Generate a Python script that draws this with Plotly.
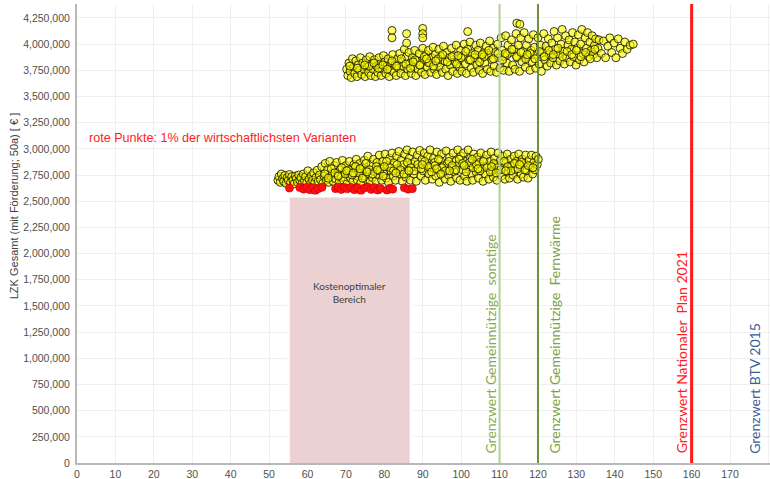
import plotly.graph_objects as go

# Variant cloud, lower band: (x, life-cycle cost in k€)
lower_pts = [
    (52.3, 2700), (52.6, 2735), (52.9, 2680), (53.2, 2760), (53.5, 2715), (53.8, 2690), (54.1, 2745), (54.4, 2670), (54.7, 2725), (55.0, 2700),
    (55.3, 2755), (55.6, 2680), (55.9, 2735), (56.2, 2700), (56.5, 2665), (56.8, 2740), (57.1, 2715), (57.4, 2680), (57.7, 2750), (58.0, 2700),
    (58.3, 2725), (58.6, 2670), (58.9, 2760), (59.2, 2695), (59.5, 2735), (59.8, 2680), (60.1, 2790), (60.4, 2710), (60.7, 2665), (61.0, 2745),
    (61.3, 2700), (61.6, 2770), (61.9, 2680), (62.2, 2725), (62.5, 2795), (62.8, 2690), (63.1, 2750), (63.4, 2705), (63.7, 2830), (64.0, 2670),
    (64.3, 2740), (64.6, 2860), (64.9, 2700), (65.2, 2800), (65.5, 2680), (65.8, 2880), (66.1, 2735), (66.4, 2765), (66.7, 2690), (67.0, 2840),
    (67.3, 2715), (67.6, 2870), (67.9, 2750), (68.2, 2680), (68.5, 2800), (68.8, 2730), (69.1, 2890), (69.4, 2700), (69.7, 2780), (70.0, 2840),
    (70.3, 2665), (70.6, 2760), (70.9, 2880), (71.2, 2720), (71.5, 2810), (71.8, 2690), (72.1, 2850), (72.4, 2745), (72.7, 2900), (73.0, 2700),
    (73.3, 2790), (73.6, 2860), (73.9, 2675), (74.2, 2820), (74.5, 2740), (74.8, 2890), (75.1, 2710), (75.4, 2800), (75.7, 2930), (76.0, 2760),
    (76.3, 2685), (76.6, 2850), (76.9, 2725), (77.2, 2900), (77.5, 2780), (77.8, 2690), (78.1, 2870), (78.4, 2750), (78.7, 2940), (79.0, 2810),
    (79.3, 2700), (79.6, 2880), (79.9, 2760), (80.2, 2950), (80.5, 2720), (80.8, 2840), (81.1, 2680), (81.4, 2910), (81.7, 2790), (82.0, 2960),
    (82.3, 2740), (82.6, 2870), (82.9, 2700), (83.2, 2930), (83.5, 2810), (83.8, 2975), (84.1, 2760), (84.4, 2890), (84.7, 2690), (85.0, 2850),
    (85.3, 2950), (85.6, 2730), (85.9, 2990), (86.2, 2800), (86.5, 2910), (86.8, 2700), (87.1, 2860), (87.4, 2970), (87.7, 2760), (88.0, 2880),
    (88.3, 2690), (88.6, 2940), (88.9, 2820), (89.2, 2985), (89.5, 2740), (89.8, 2900), (90.1, 2790), (90.4, 2960), (90.7, 2700), (91.0, 2850),
    (91.3, 2930), (91.6, 2760), (91.9, 2990), (92.2, 2820), (92.5, 2710), (92.8, 2910), (93.1, 2870), (93.4, 2740), (93.7, 2970), (94.0, 2800),
    (94.3, 2680), (94.6, 2890), (94.9, 2950), (95.2, 2770), (95.5, 2840), (95.8, 2710), (96.1, 2980), (96.4, 2860), (96.7, 2750), (97.0, 2920),
    (97.3, 2690), (97.6, 2830), (97.9, 2960), (98.2, 2780), (98.5, 2880), (98.8, 2720), (99.1, 2990), (99.4, 2850), (99.7, 2700), (100.0, 2930),
    (100.3, 2800), (100.6, 2960), (100.9, 2740), (101.2, 2880), (101.5, 2690), (101.8, 2990), (102.1, 2830), (102.4, 2910), (102.7, 2760), (103.0, 2700),
    (103.3, 2950), (103.6, 2850), (103.9, 2780), (104.2, 2920), (104.5, 2720), (104.8, 2870), (105.1, 2960), (105.4, 2810), (105.7, 2690), (106.0, 2900),
    (106.3, 2760), (106.6, 2940), (106.9, 2840), (107.2, 2710), (107.5, 2880), (107.8, 2970), (108.1, 2790), (108.4, 2730), (108.7, 2910), (109.0, 2850),
    (109.3, 2700), (109.6, 2960), (109.9, 2800), (110.2, 2890), (110.5, 2740), (110.8, 2930), (111.1, 2820), (111.4, 2710), (111.7, 2870), (112.0, 2950),
    (112.3, 2780), (112.6, 2720), (112.9, 2900), (113.2, 2840), (113.5, 2750), (113.8, 2930), (114.1, 2800), (114.4, 2880), (114.7, 2710), (115.0, 2950),
    (115.3, 2830), (115.6, 2760), (115.9, 2900), (116.2, 2730), (116.5, 2860), (116.8, 2940), (117.1, 2790), (117.4, 2720), (117.7, 2890), (118.0, 2830),
    (118.3, 2940), (118.6, 2760), (118.9, 2870), (119.2, 2800), (119.5, 2930), (119.8, 2850), (120.1, 2900),
    (64.5, 2760), (65.4, 2720), (66.2, 2810), (67.1, 2770), (68.0, 2740), (68.9, 2820), (69.8, 2760), (70.7, 2800), (71.6, 2750), (72.5, 2830),
    (73.4, 2770), (74.3, 2720), (75.2, 2860), (76.1, 2800), (77.0, 2760), (77.9, 2830), (78.8, 2790), (79.7, 2740), (80.6, 2880), (81.5, 2820),
    (82.4, 2790), (83.3, 2850), (84.2, 2800), (85.1, 2760), (86.0, 2870), (86.9, 2820), (87.8, 2790), (88.7, 2850), (89.6, 2810), (90.5, 2880),
    (91.4, 2830), (92.3, 2780), (93.2, 2840), (94.1, 2900), (95.0, 2820), (95.9, 2790), (96.8, 2880), (97.7, 2840), (98.6, 2800), (99.5, 2900),
    (100.4, 2860), (101.3, 2780), (102.2, 2870), (103.1, 2820), (104.0, 2850), (104.9, 2790), (105.8, 2880), (106.7, 2820), (107.6, 2780), (108.5, 2860),
    (109.4, 2820), (110.3, 2800), (111.2, 2880), (112.1, 2830), (113.0, 2790), (113.9, 2860), (114.8, 2810), (115.7, 2870), (116.6, 2800), (117.5, 2840),
    (70.2, 2790), (71.9, 2770), (73.7, 2810), (75.5, 2780), (78.2, 2800), (80.0, 2830), (83.0, 2770), (86.4, 2790), (89.9, 2850), (93.6, 2810),
    (97.0, 2790), (100.8, 2840), (104.4, 2810), (107.9, 2830), (111.6, 2790), (115.2, 2850), (118.7, 2820), (94.7, 2760), (102.9, 2900), (109.1, 2770),
]

# Variant cloud, upper band
upper_pts = [
    (70.2, 3760), (70.5, 3700), (70.8, 3820), (71.1, 3740), (71.4, 3680), (71.7, 3860), (72.0, 3780), (72.3, 3720), (72.6, 3840), (72.9, 3690),
    (73.2, 3800), (73.5, 3750), (73.8, 3870), (74.1, 3710), (74.4, 3820), (74.7, 3760), (75.0, 3690), (75.3, 3850), (75.6, 3780), (75.9, 3730),
    (76.2, 3880), (76.5, 3700), (76.8, 3810), (77.1, 3760), (77.4, 3850), (77.7, 3690), (78.0, 3790), (78.3, 3730), (78.6, 3870), (78.9, 3810),
    (79.2, 3700), (79.5, 3760), (79.8, 3890), (80.1, 3830), (80.4, 3720), (80.7, 3790), (81.0, 3860), (81.3, 3690), (81.6, 3750), (81.9, 3820),
    (82.2, 3900), (82.5, 3730), (82.8, 3800), (83.1, 3700), (83.4, 3860), (83.7, 3770), (84.0, 3910), (84.3, 3720), (84.6, 3830), (84.9, 3790),
    (85.2, 3950), (85.5, 3700), (85.8, 3880), (86.1, 3760), (86.4, 3920), (86.7, 3820), (87.0, 3720), (87.3, 3870), (87.6, 3790), (87.9, 3940),
    (88.2, 3700), (88.5, 3840), (88.8, 3760), (89.1, 3910), (89.4, 3800), (89.7, 3730), (90.0, 3960), (90.3, 3850), (90.6, 3710), (90.9, 3900),
    (91.2, 3780), (91.5, 3940), (91.8, 3830), (92.1, 3730), (92.4, 3870), (92.7, 3970), (93.0, 3760), (93.3, 3900), (93.6, 3710), (93.9, 3820),
    (94.2, 3950), (94.5, 3780), (94.8, 3880), (95.1, 3730), (95.4, 3980), (95.7, 3840), (96.0, 3760), (96.3, 3920), (96.6, 3700), (96.9, 3870),
    (97.2, 3800), (97.5, 3960), (97.8, 3740), (98.1, 3890), (98.4, 3830), (98.7, 3990), (99.0, 3720), (99.3, 3860), (99.6, 3780), (99.9, 3940),
    (100.2, 3740), (100.5, 3890), (100.8, 4000), (101.1, 3810), (101.4, 3720), (101.7, 3950), (102.0, 3850), (102.3, 4020), (102.6, 3770), (102.9, 3910),
    (103.2, 3730), (103.5, 3870), (103.8, 3990), (104.1, 3800), (104.4, 3940), (104.7, 3750), (105.0, 4010), (105.3, 3860), (105.6, 3720), (105.9, 3920),
    (106.2, 3820), (106.5, 3980), (106.8, 3760), (107.1, 3890), (107.4, 4030), (107.7, 3740), (108.0, 3850), (108.3, 3960), (108.6, 3790), (108.9, 3920),
    (109.2, 3730), (109.5, 4000), (109.8, 3870), (110.1, 3770), (110.4, 4060), (110.7, 3940), (111.0, 3750), (111.3, 3880), (111.6, 4080), (111.9, 3820),
    (112.2, 3990), (112.5, 3740), (112.8, 3920), (113.1, 4040), (113.4, 3800), (113.7, 3950), (114.0, 3760), (114.3, 4100), (114.6, 3870), (114.9, 3990),
    (115.2, 3740), (115.5, 4060), (115.8, 3830), (116.1, 3930), (116.4, 4110), (116.7, 3780), (117.0, 3990), (117.3, 3880), (117.6, 4050), (117.9, 3750),
    (118.2, 3940), (118.5, 3830), (118.8, 4090), (119.1, 3970), (119.4, 3770), (119.7, 3900), (120.0, 4060), (120.3, 3810), (120.6, 3990), (120.9, 3740),
    (121.2, 3920), (121.5, 4100), (121.8, 3850), (122.1, 3980), (122.4, 3790), (122.7, 4050), (123.0, 3900), (123.3, 3820), (123.6, 4010), (123.9, 3870),
    (124.2, 4120), (124.5, 3950), (124.8, 3800), (125.1, 4060), (125.4, 3900), (125.7, 3840), (126.0, 4000), (126.3, 4140), (126.6, 3930), (126.9, 3810),
    (127.2, 4080), (127.5, 3870), (127.8, 3990), (128.1, 4040), (128.4, 3830), (128.7, 3950), (129.0, 4110), (129.3, 3880), (129.6, 4020), (129.9, 3800),
    (130.2, 3960), (130.5, 4090), (130.8, 3850), (131.1, 4000), (131.4, 4140), (131.7, 3910), (132.0, 3830), (132.3, 4060), (132.6, 3960), (132.9, 4110),
    (133.2, 3880), (133.5, 4020), (133.8, 3940), (134.1, 4080), (134.4, 3900), (134.7, 3990), (135.0, 4050), (135.3, 3870), (135.6, 3960), (135.9, 4040),
    (136.5, 3910), (137.1, 4030), (137.6, 3870), (138.2, 3980), (138.7, 4060), (139.2, 3920), (139.8, 4010), (140.3, 3870), (140.9, 4050), (141.4, 3960),
    (142.0, 3910), (142.6, 4020), (143.2, 3950), (144.0, 3990), (144.8, 4000),
    (82.0, 4130), (82.0, 4060), (85.8, 4100), (85.8, 4010), (90.0, 4150), (90.0, 4100), (90.0, 4060),
    (101.7, 4120), (114.5, 4200), (115.3, 4190),
    (76.0, 3790), (77.3, 3820), (78.5, 3770), (79.6, 3800), (80.8, 3760), (82.0, 3840), (83.2, 3790), (84.4, 3860), (85.6, 3810), (86.8, 3770),
    (88.0, 3850), (89.2, 3800), (90.4, 3880), (91.6, 3820), (92.8, 3790), (94.0, 3860), (95.2, 3900), (96.4, 3830), (97.6, 3880), (98.8, 3810),
    (100.0, 3870), (101.2, 3930), (102.4, 3850), (103.6, 3900), (104.8, 3830), (106.0, 3880), (107.2, 3940), (108.4, 3860), (109.6, 3910), (110.8, 3850),
    (112.0, 3900), (113.2, 3950), (114.4, 3880), (115.6, 3920), (116.8, 3860), (118.0, 3910), (119.2, 3860), (120.4, 3930), (121.6, 3880), (122.8, 3940),
    (124.0, 3900), (125.2, 3960), (126.4, 3880), (127.6, 3930), (128.8, 3900), (130.0, 3940), (131.2, 3880), (132.4, 3920), (133.6, 3860), (134.8, 3950),
    (71.0, 3790), (73.0, 3770), (74.9, 3800), (87.5, 3830), (91.0, 3860), (93.4, 3840), (99.2, 3890), (105.5, 3900), (111.5, 3910), (117.2, 3900),
]

# Most economic 1 % of the variants
best_pts = [
    (55.3, 2625), (58.0, 2630), (59.0, 2615), (59.8, 2632), (60.6, 2610), (61.3, 2628), (62.0, 2600), (62.8, 2620), (63.8, 2632),
    (67.3, 2620), (68.0, 2635), (68.8, 2612), (69.6, 2630), (70.4, 2618), (71.3, 2632), (72.2, 2610), (73.0, 2628), (73.9, 2600),
    (74.8, 2625), (75.7, 2635), (76.6, 2612), (77.4, 2630), (78.3, 2605), (79.0, 2622),
    (80.7, 2605), (81.5, 2625), (82.2, 2615),
    (85.2, 2628), (86.2, 2615), (87.3, 2620),
]

# Cost-optimal range (x from, x to, upper cost in €)
optimal_range = (55.0, 87.0, 2550000)
optimal_label = "Kostenoptimaler<br>Bereich"

# Limit values
limit_x = [110, 120, 160, 177]
limit_labels = [
    "Grenzwert Gemeinnützige  sonstige",
    "Grenzwert Gemeinnützige  Fernwärme",
    "Grenzwert Nationaler  Plan 2021",
    "Grenzwert BTV 2015",
]
limit_line_colors = ["#b5cf96", "#6e8f3c", "#ff1a1a", None]
limit_text_colors = ["#86ab55", "#7aa24a", "#ff2020", "#3a5f9a"]
label_offset = [-2.4, 4.4, -2.6, -0.6]

x_ticks = list(range(0, 190, 10))
y_ticks = list(range(0, 4250001, 250000))


def split(pts):
    return [p[0] for p in pts], [p[1] * 1000 for p in pts]


fig = go.Figure()

lx, ly = split(lower_pts)
ux, uy = split(upper_pts)
bx, by = split(best_pts)

yellow_marker = dict(size=8, color="rgba(250,250,0,0.62)",
                     line=dict(color="rgba(25,25,0,0.85)", width=1))
fig.add_trace(go.Scatter(x=ux, y=uy, mode="markers", marker=yellow_marker, showlegend=False))
fig.add_trace(go.Scatter(x=lx, y=ly, mode="markers", marker=yellow_marker, showlegend=False))
fig.add_trace(go.Scatter(x=bx, y=by, mode="markers", showlegend=False,
                         marker=dict(size=8, color="#ff1010", line=dict(color="#c00000", width=0.6))))

x0, x1, ytop = optimal_range
fig.add_shape(type="rect", xref="x", yref="y", x0=x0, x1=x1, y0=-45000, y1=ytop,
              fillcolor="#ecd1d3", line=dict(color="white", width=3), layer="above")
fig.add_annotation(x=(x0 + x1) / 2, y=1630000, text=optimal_label, showarrow=False,
                   font=dict(family="Lato", size=10, color="#404040"))

for xv, col in zip(limit_x, limit_line_colors):
    if col is None:
        continue
    fig.add_shape(type="line", xref="x", yref="paper", x0=xv, x1=xv, y0=0, y1=1,
                  line=dict(color=col, width=3 if xv == 160 else 2), layer="above")

for xv, lab, col, off in zip(limit_x, limit_labels, limit_text_colors, label_offset):
    fig.add_annotation(x=xv + off, y=70000, text=lab, textangle=-90, showarrow=False,
                       xanchor="center", yanchor="bottom",
                       font=dict(family="Lato", size=14, color=col))

fig.add_annotation(x=2.5, y=3100000, text="rote Punkte: 1% der wirtschaftlichsten Varianten",
                   showarrow=False, xanchor="left",
                   font=dict(family="Liberation Sans", size=12.6, color="#ff1a1a"))

fig.add_annotation(xref="paper", yref="paper", x=-0.102, y=0.56,
                   text="LZK Gesamt (mit Förderung; 50a) [ € ]", textangle=-90,
                   showarrow=False, font=dict(family="Liberation Sans", size=11, color="#404040"))

axis_font = dict(family="Liberation Sans", size=10.5, color="#505050")
fig.update_xaxes(range=[0, 180.4], tickvals=x_ticks, ticktext=[str(t) for t in x_ticks],
                 showgrid=True, gridcolor="#efefef", gridwidth=1,
                 showline=True, linecolor="#b8b8b8", linewidth=2, zeroline=False,
                 ticks="", tickfont=axis_font)
fig.update_yaxes(range=[0, 4383000], tickvals=y_ticks, tickformat=",d",
                 showgrid=True, gridcolor="#efefef", gridwidth=1,
                 showline=True, linecolor="#b8b8b8", linewidth=2, zeroline=False,
                 ticks="", tickfont=axis_font, ticklabelstandoff=3)

fig.update_layout(width=770, height=479, margin=dict(l=77, r=0, t=4, b=16),
                  paper_bgcolor="white", plot_bgcolor="white", showlegend=False)

fig.write_html("out.html")
